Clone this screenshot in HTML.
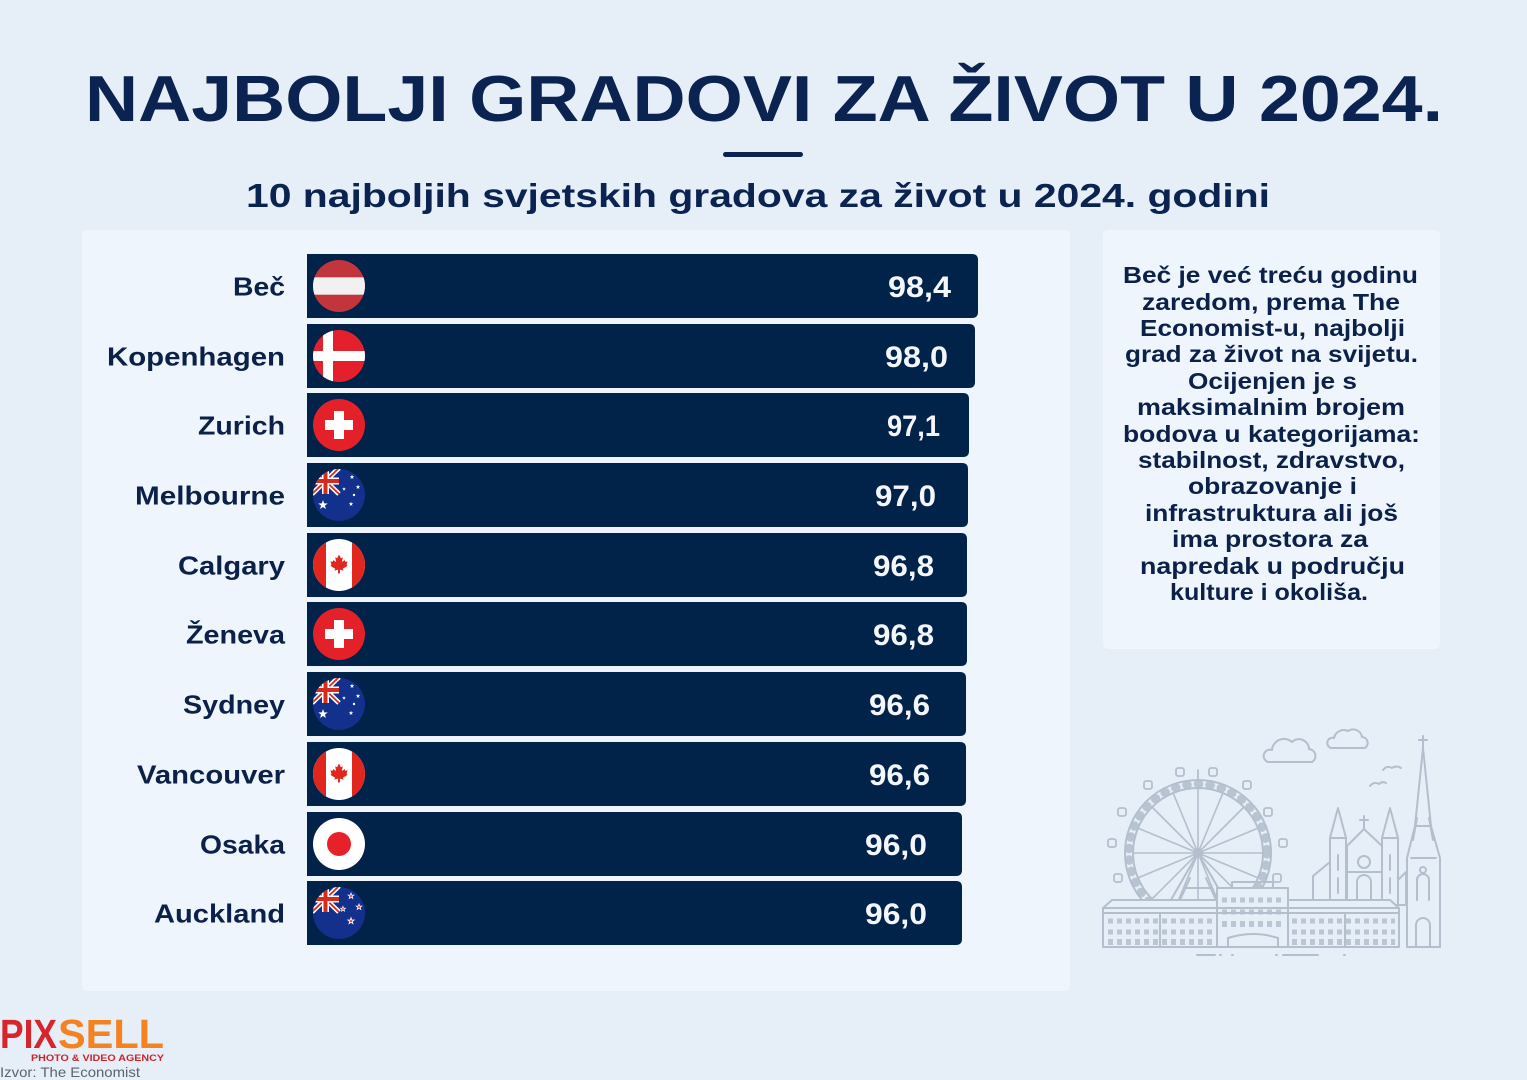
<!DOCTYPE html>
<html><head><meta charset="utf-8"><style>
html,body{margin:0;padding:0;background:#e6eef8;}
svg{display:block;}
text{font-family:"Liberation Sans",sans-serif;font-weight:bold;}
</style></head><body>
<svg width="1527" height="1080" viewBox="0 0 1527 1080" xmlns="http://www.w3.org/2000/svg">
<defs>
<clipPath id="c0"><circle cx="339" cy="286" r="26"/></clipPath>
<clipPath id="c1"><circle cx="339" cy="356" r="26"/></clipPath>
<clipPath id="c2"><circle cx="339" cy="425" r="26"/></clipPath>
<clipPath id="c3"><circle cx="339" cy="495" r="26"/></clipPath>
<clipPath id="c4"><circle cx="339" cy="565" r="26"/></clipPath>
<clipPath id="c5"><circle cx="339" cy="634" r="26"/></clipPath>
<clipPath id="c6"><circle cx="339" cy="704" r="26"/></clipPath>
<clipPath id="c7"><circle cx="339" cy="774" r="26"/></clipPath>
<clipPath id="c8"><circle cx="339" cy="844" r="26"/></clipPath>
<clipPath id="c9"><circle cx="339" cy="913" r="26"/></clipPath>
</defs>
<rect width="1527" height="1080" fill="#e6eef8"/>

<!-- Title -->
<text x="85" y="121" font-size="65" fill="#0a2350" textLength="1358" lengthAdjust="spacingAndGlyphs">NAJBOLJI GRADOVI ZA ŽIVOT U 2024.</text>
<rect x="723" y="152" width="80" height="5" rx="2.5" fill="#0a2350"/>
<text x="246" y="207" font-size="33" fill="#0a2350" textLength="1024" lengthAdjust="spacingAndGlyphs">10 najboljih svjetskih gradova za život u 2024. godini</text>

<!-- Panels -->
<rect x="82" y="230" width="988" height="761" rx="4" fill="#eff5fc"/>
<rect x="1103" y="230" width="337" height="419" rx="5" fill="#eff5fc"/>

<!-- Bars -->
<g fill="#012249">
<path d="M307,254 H972 Q978,254 978,260 V312 Q978,318 972,318 H307 Z"/>
<path d="M307,324 H969 Q975,324 975,330 V382 Q975,388 969,388 H307 Z"/>
<path d="M307,393 H963 Q969,393 969,399 V451 Q969,457 963,457 H307 Z"/>
<path d="M307,463 H962 Q968,463 968,469 V521 Q968,527 962,527 H307 Z"/>
<path d="M307,533 H961 Q967,533 967,539 V591 Q967,597 961,597 H307 Z"/>
<path d="M307,602 H961 Q967,602 967,608 V660 Q967,666 961,666 H307 Z"/>
<path d="M307,672 H960 Q966,672 966,678 V730 Q966,736 960,736 H307 Z"/>
<path d="M307,742 H960 Q966,742 966,748 V800 Q966,806 960,806 H307 Z"/>
<path d="M307,812 H956 Q962,812 962,818 V870 Q962,876 956,876 H307 Z"/>
<path d="M307,881 H956 Q962,881 962,887 V939 Q962,945 956,945 H307 Z"/>
</g>

<!-- Labels -->
<g fill="#0b2149" font-size="26">
<text x="233" y="295.5" textLength="52" lengthAdjust="spacingAndGlyphs">Beč</text>
<text x="107" y="365.5" textLength="178" lengthAdjust="spacingAndGlyphs">Kopenhagen</text>
<text x="198" y="434.5" textLength="87" lengthAdjust="spacingAndGlyphs">Zurich</text>
<text x="135" y="504.5" textLength="150" lengthAdjust="spacingAndGlyphs">Melbourne</text>
<text x="178" y="574.5" textLength="107" lengthAdjust="spacingAndGlyphs">Calgary</text>
<text x="186" y="643.5" textLength="99" lengthAdjust="spacingAndGlyphs">Ženeva</text>
<text x="183" y="713.5" textLength="102" lengthAdjust="spacingAndGlyphs">Sydney</text>
<text x="137" y="783.5" textLength="148" lengthAdjust="spacingAndGlyphs">Vancouver</text>
<text x="200" y="853.5" textLength="85" lengthAdjust="spacingAndGlyphs">Osaka</text>
<text x="154" y="922.5" textLength="131" lengthAdjust="spacingAndGlyphs">Auckland</text>
</g>

<!-- Values -->
<g fill="#f3f6fb" font-size="30">
<text x="888" y="297" textLength="63" lengthAdjust="spacingAndGlyphs">98,4</text>
<text x="885" y="367" textLength="63" lengthAdjust="spacingAndGlyphs">98,0</text>
<text x="887" y="436" textLength="53" lengthAdjust="spacingAndGlyphs">97,1</text>
<text x="875" y="506" textLength="61" lengthAdjust="spacingAndGlyphs">97,0</text>
<text x="873" y="576" textLength="61" lengthAdjust="spacingAndGlyphs">96,8</text>
<text x="873" y="645" textLength="61" lengthAdjust="spacingAndGlyphs">96,8</text>
<text x="869" y="715" textLength="61" lengthAdjust="spacingAndGlyphs">96,6</text>
<text x="869" y="785" textLength="61" lengthAdjust="spacingAndGlyphs">96,6</text>
<text x="865" y="855" textLength="62" lengthAdjust="spacingAndGlyphs">96,0</text>
<text x="865" y="924" textLength="62" lengthAdjust="spacingAndGlyphs">96,0</text>
</g>

<!-- Flags -->
<!-- Austria -->
<g clip-path="url(#c0)">
<rect x="313" y="260" width="52" height="52" fill="#c3353d"/>
<rect x="313" y="277.3" width="52" height="17.4" fill="#f1f1f1"/>
</g>
<!-- Denmark -->
<g clip-path="url(#c1)">
<rect x="313" y="330" width="52" height="52" fill="#e5202d"/>
<rect x="323" y="330" width="10" height="52" fill="#fff"/>
<rect x="313" y="351" width="52" height="10" fill="#fff"/>
</g>
<!-- Switzerland -->
<circle cx="339" cy="425" r="26" fill="#e42128"/>
<rect x="334" y="411" width="10" height="28" fill="#fff"/>
<rect x="325" y="420" width="28" height="10" fill="#fff"/>
<circle cx="339" cy="634" r="26" fill="#e42128"/>
<rect x="334" y="620" width="10" height="28" fill="#fff"/>
<rect x="325" y="629" width="28" height="10" fill="#fff"/>
<!-- Australia 1 -->
<g clip-path="url(#c3)">
<rect x="313" y="469" width="52" height="52" fill="#13308c"/>
<path d="M312,468 L339,494 M312,494 L339,468" stroke="#fff" stroke-width="5"/>
<path d="M312,468 L339,494 M312,494 L339,468" stroke="#d52b1e" stroke-width="1.8"/>
<path d="M325.5,468 V494 M312,481 H339" stroke="#fff" stroke-width="7"/>
<path d="M325.5,468 V494 M312,481 H339" stroke="#d52b1e" stroke-width="4"/>
<g fill="#fff">
<polygon transform="translate(323,505) scale(5)" points="0,-1 0.235,-0.324 0.951,-0.309 0.380,0.124 0.588,0.809 0,0.4 -0.588,0.809 -0.380,0.124 -0.951,-0.309 -0.235,-0.324"/>
<polygon transform="translate(352,477) scale(2.4)" points="0,-1 0.235,-0.324 0.951,-0.309 0.380,0.124 0.588,0.809 0,0.4 -0.588,0.809 -0.380,0.124 -0.951,-0.309 -0.235,-0.324"/>
<polygon transform="translate(358,487) scale(2.4)" points="0,-1 0.235,-0.324 0.951,-0.309 0.380,0.124 0.588,0.809 0,0.4 -0.588,0.809 -0.380,0.124 -0.951,-0.309 -0.235,-0.324"/>
<polygon transform="translate(344,489) scale(2)" points="0,-1 0.235,-0.324 0.951,-0.309 0.380,0.124 0.588,0.809 0,0.4 -0.588,0.809 -0.380,0.124 -0.951,-0.309 -0.235,-0.324"/>
<circle cx="354" cy="495" r="1.2"/>
<polygon transform="translate(351,504) scale(2.4)" points="0,-1 0.235,-0.324 0.951,-0.309 0.380,0.124 0.588,0.809 0,0.4 -0.588,0.809 -0.380,0.124 -0.951,-0.309 -0.235,-0.324"/>
</g>
</g>
<!-- Australia 2 -->
<g clip-path="url(#c6)">
<rect x="313" y="678" width="52" height="52" fill="#13308c"/>
<path d="M312,677 L339,703 M312,703 L339,677" stroke="#fff" stroke-width="5"/>
<path d="M312,677 L339,703 M312,703 L339,677" stroke="#d52b1e" stroke-width="1.8"/>
<path d="M325.5,677 V703 M312,690 H339" stroke="#fff" stroke-width="7"/>
<path d="M325.5,677 V703 M312,690 H339" stroke="#d52b1e" stroke-width="4"/>
<g fill="#fff">
<polygon transform="translate(323,714) scale(5)" points="0,-1 0.235,-0.324 0.951,-0.309 0.380,0.124 0.588,0.809 0,0.4 -0.588,0.809 -0.380,0.124 -0.951,-0.309 -0.235,-0.324"/>
<polygon transform="translate(352,686) scale(2.4)" points="0,-1 0.235,-0.324 0.951,-0.309 0.380,0.124 0.588,0.809 0,0.4 -0.588,0.809 -0.380,0.124 -0.951,-0.309 -0.235,-0.324"/>
<polygon transform="translate(358,696) scale(2.4)" points="0,-1 0.235,-0.324 0.951,-0.309 0.380,0.124 0.588,0.809 0,0.4 -0.588,0.809 -0.380,0.124 -0.951,-0.309 -0.235,-0.324"/>
<polygon transform="translate(344,698) scale(2)" points="0,-1 0.235,-0.324 0.951,-0.309 0.380,0.124 0.588,0.809 0,0.4 -0.588,0.809 -0.380,0.124 -0.951,-0.309 -0.235,-0.324"/>
<circle cx="354" cy="704" r="1.2"/>
<polygon transform="translate(351,713) scale(2.4)" points="0,-1 0.235,-0.324 0.951,-0.309 0.380,0.124 0.588,0.809 0,0.4 -0.588,0.809 -0.380,0.124 -0.951,-0.309 -0.235,-0.324"/>
</g>
</g>
<!-- Canada -->
<g clip-path="url(#c4)">
<rect x="313" y="539" width="52" height="52" fill="#fff"/>
<rect x="313" y="539" width="13" height="52" fill="#e0261d"/>
<rect x="352" y="539" width="13" height="52" fill="#e0261d"/>
<path transform="translate(339,563) scale(0.95)" fill="#e0261d" d="M0,-9 L2,-5 L4,-6 L3,-1 L6,-3 L7,-1 L9,-2 L8,2 L9,3 L4,6 L5,8 L1,7 L1,11 L-1,11 L-1,7 L-5,8 L-4,6 L-9,3 L-8,2 L-9,-2 L-7,-1 L-6,-3 L-3,-1 L-4,-6 L-2,-5 Z"/>
</g>
<g clip-path="url(#c7)">
<rect x="313" y="748" width="52" height="52" fill="#fff"/>
<rect x="313" y="748" width="13" height="52" fill="#e0261d"/>
<rect x="352" y="748" width="13" height="52" fill="#e0261d"/>
<path transform="translate(339,772) scale(0.95)" fill="#e0261d" d="M0,-9 L2,-5 L4,-6 L3,-1 L6,-3 L7,-1 L9,-2 L8,2 L9,3 L4,6 L5,8 L1,7 L1,11 L-1,11 L-1,7 L-5,8 L-4,6 L-9,3 L-8,2 L-9,-2 L-7,-1 L-6,-3 L-3,-1 L-4,-6 L-2,-5 Z"/>
</g>
<!-- Japan -->
<circle cx="339" cy="844" r="26" fill="#fff"/>
<circle cx="339" cy="844" r="12" fill="#e8202a"/>
<!-- New Zealand -->
<g clip-path="url(#c9)">
<rect x="313" y="887" width="52" height="52" fill="#13308c"/>
<path d="M312,886 L339,912 M312,912 L339,886" stroke="#fff" stroke-width="5"/>
<path d="M312,886 L339,912 M312,912 L339,886" stroke="#d52b1e" stroke-width="1.8"/>
<path d="M325.5,886 V912 M312,899 H339" stroke="#fff" stroke-width="7"/>
<path d="M325.5,886 V912 M312,899 H339" stroke="#d52b1e" stroke-width="4"/>
<g fill="#d6334a" stroke="#fff" stroke-width="0.25">
<polygon transform="translate(351,896) scale(3)" points="0,-1 0.235,-0.324 0.951,-0.309 0.380,0.124 0.588,0.809 0,0.4 -0.588,0.809 -0.380,0.124 -0.951,-0.309 -0.235,-0.324"/>
<polygon transform="translate(359,907) scale(3)" points="0,-1 0.235,-0.324 0.951,-0.309 0.380,0.124 0.588,0.809 0,0.4 -0.588,0.809 -0.380,0.124 -0.951,-0.309 -0.235,-0.324"/>
<polygon transform="translate(343,909) scale(2.7)" points="0,-1 0.235,-0.324 0.951,-0.309 0.380,0.124 0.588,0.809 0,0.4 -0.588,0.809 -0.380,0.124 -0.951,-0.309 -0.235,-0.324"/>
<polygon transform="translate(351,921) scale(3.3)" points="0,-1 0.235,-0.324 0.951,-0.309 0.380,0.124 0.588,0.809 0,0.4 -0.588,0.809 -0.380,0.124 -0.951,-0.309 -0.235,-0.324"/>
</g>
</g>

<!-- Right panel text -->
<g fill="#0b2149" font-size="23.5">
<text x="1123" y="283" textLength="295" lengthAdjust="spacingAndGlyphs">Beč je već treću godinu</text>
<text x="1142" y="310" textLength="258" lengthAdjust="spacingAndGlyphs">zaredom, prema The</text>
<text x="1140" y="336" textLength="265" lengthAdjust="spacingAndGlyphs">Economist-u, najbolji</text>
<text x="1125" y="362" textLength="293" lengthAdjust="spacingAndGlyphs">grad za život na svijetu.</text>
<text x="1188" y="389" textLength="169" lengthAdjust="spacingAndGlyphs">Ocijenjen je s</text>
<text x="1137" y="415" textLength="268" lengthAdjust="spacingAndGlyphs">maksimalnim brojem</text>
<text x="1123" y="442" textLength="297" lengthAdjust="spacingAndGlyphs">bodova u kategorijama:</text>
<text x="1138" y="468" textLength="267" lengthAdjust="spacingAndGlyphs">stabilnost, zdravstvo,</text>
<text x="1188" y="494" textLength="169" lengthAdjust="spacingAndGlyphs">obrazovanje i</text>
<text x="1145" y="521" textLength="253" lengthAdjust="spacingAndGlyphs">infrastruktura ali još</text>
<text x="1172" y="547" textLength="196" lengthAdjust="spacingAndGlyphs">ima prostora za</text>
<text x="1140" y="574" textLength="265" lengthAdjust="spacingAndGlyphs">napredak u području</text>
<text x="1170" y="600" textLength="198" lengthAdjust="spacingAndGlyphs">kulture i okoliša.</text>
</g>

<!-- Skyline -->
<g fill="none" stroke="#b4bfcd" stroke-width="2" stroke-linejoin="round" stroke-linecap="round">
<!-- clouds -->
<path d="M1268,762 H1312 A7,7 0 0 0 1309,749 A10,10 0 0 0 1292,742 A12,12 0 0 0 1272,750 A6,6 0 0 0 1268,762 Z"/>
<path d="M1331,748 H1365 A6,6 0 0 0 1362,737 A9,9 0 0 0 1348,731 A10,10 0 0 0 1334,738 A5,5 0 0 0 1331,748 Z"/>
<!-- birds -->
<path d="M1383,770 q4,-5 9,-2 q4,-3 9,0"/>
<path d="M1370,786 q4,-5 9,-2 q3,-3 7,-1"/>
<!-- wheel -->
<circle cx="1198" cy="853" r="73"/>
<circle cx="1198" cy="853" r="65"/>
<circle cx="1198" cy="853" r="69" stroke-width="8" stroke-dasharray="1.6 10" opacity="0.9"/>
<circle cx="1198" cy="853" r="4"/>
<path stroke-width="1.6" d="M1133,853 H1263 M1137.9,828.1 L1258.1,877.9 M1152,807 L1244,899 M1173.1,792.9 L1222.9,913.1 M1198,788 V918 M1222.9,792.9 L1173.1,913.1 M1244,807 L1152,899 M1258.1,828.1 L1137.9,877.9"/>
<path d="M1198,853 L1168,905 M1198,853 L1228,905 M1185,888 H1211 M1190,878 L1180,900 M1206,878 L1216,900"/>
<!-- gondolas -->
<g stroke-width="1.8">
<rect x="1176" y="768" width="8" height="8" rx="2"/><rect x="1209" y="768" width="8" height="8" rx="2"/>
<rect x="1144" y="781" width="8" height="8" rx="2"/><rect x="1243" y="781" width="8" height="8" rx="2"/>
<rect x="1118" y="808" width="8" height="8" rx="2"/><rect x="1264" y="808" width="8" height="8" rx="2"/>
<rect x="1108" y="839" width="8" height="8" rx="2"/><rect x="1279" y="839" width="8" height="8" rx="2"/>
<rect x="1114" y="874" width="8" height="8" rx="2"/><rect x="1273" y="874" width="8" height="8" rx="2"/>
<path d="M1198,770 V780 M1130,834 L1127,835 M1266,834 L1269,835"/>
</g>
<!-- church -->
<path fill="#e6eef8" d="M1313,905 V876 L1330,862 V905 Z"/>
<path fill="#e6eef8" d="M1347,905 V846 L1364,829 L1382,846 V905 Z"/>
<path d="M1364,829 V816 M1360,820 H1368"/>
<circle cx="1364" cy="862" r="6"/>
<path d="M1357,905 V882 A7,7 0 0 1 1371,882 V905"/>
<path d="M1347,872 H1382"/>
<path fill="#e6eef8" d="M1330,905 V838 L1338,808 L1346,838 V905 Z"/>
<path d="M1330,838 H1346 M1338,855 V870 M1338,878 V893"/>
<path fill="#e6eef8" d="M1382,905 V838 L1390,808 L1398,838 V905 Z"/>
<path d="M1382,838 H1398 M1390,855 V870 M1390,878 V893"/>
<path fill="#e6eef8" d="M1398,905 V880 L1406,872 V905 Z"/>
<!-- tall tower -->
<path fill="#e6eef8" d="M1407,947 V858 L1415,826 L1423,748 L1431,826 L1440,858 V947 Z"/>
<path d="M1423,748 V736 M1419,740 H1427 M1415,826 H1431 M1411,858 H1436 M1413,840 L1417,818 M1433,840 L1429,818"/>
<path d="M1416,947 V925 A7,7 0 0 1 1430,925 V947 M1417,900 V880 A6,6 0 0 1 1429,880 V900"/>
<circle cx="1423" cy="870" r="3"/>
<!-- main building -->
<path fill="#e6eef8" d="M1103,947 V908 L1112,900 H1217 V888 H1288 V900 H1390 L1399,908 V947 Z"/>
<path d="M1103,908 H1399 M1103,913 H1399 M1217,888 V947 M1288,888 V947 M1160,913 V947 M1345,913 V947 M1232,888 V882 H1273 V888"/>
<g stroke-width="5" stroke-linecap="butt" opacity="0.85">
<path stroke-dasharray="5 4" d="M1108,921 H1214 M1292,921 H1395 M1222,900 H1285"/>
<path stroke-dasharray="5 4" d="M1108,932 H1214 M1292,932 H1395 M1222,912 H1285"/>
<path stroke-width="6" stroke-dasharray="5 4" d="M1108,942 H1214 M1292,942 H1395 M1222,924 H1285"/>
</g>
<path d="M1228,947 V938 Q1253,930 1278,938 V947"/>
<path d="M1197,955 H1215 M1283,955 H1318 M1220,955 h1 M1232,955 h1 M1276,955 h1 M1344,955 h1"/>
</g>

<!-- Logo -->
<text x="0" y="1048" font-size="41" fill="#d6252b" textLength="57" lengthAdjust="spacingAndGlyphs">PIX</text>
<text x="58" y="1048" font-size="41" fill="#f58220" textLength="106" lengthAdjust="spacingAndGlyphs">SELL</text>
<text x="31" y="1061" font-size="9.5" fill="#c8262c" textLength="133" lengthAdjust="spacingAndGlyphs">PHOTO &amp; VIDEO AGENCY</text>
<text x="0" y="1077" font-size="14" font-weight="normal" style="font-weight:normal" fill="#5c6270" textLength="140" lengthAdjust="spacingAndGlyphs">Izvor: The Economist</text>
</svg>
</body></html>
